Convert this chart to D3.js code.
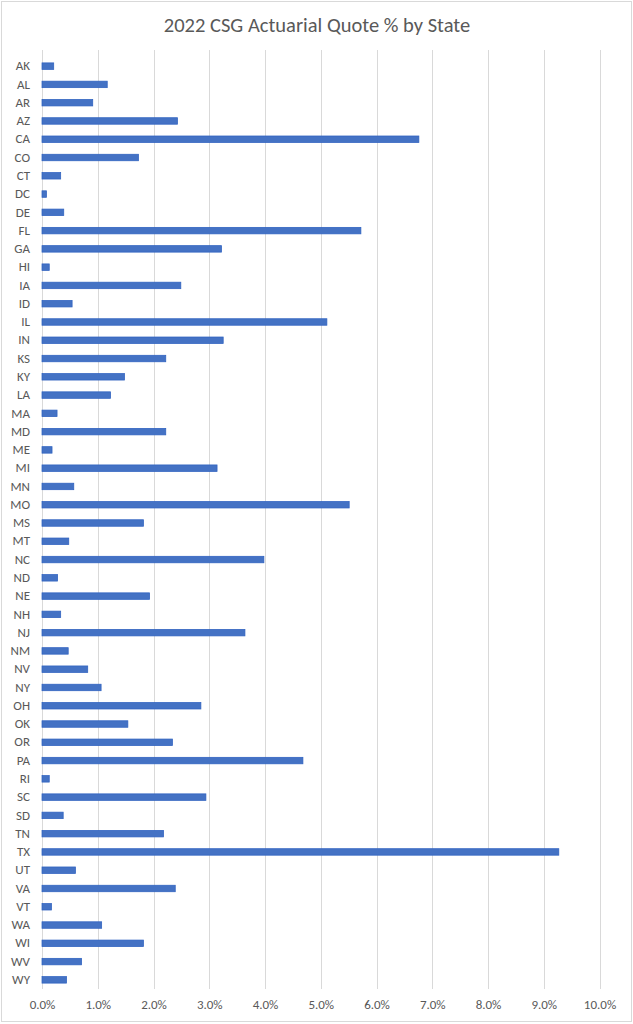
<!DOCTYPE html>
<html>
<head>
<meta charset="utf-8">
<script src="https://cdn.jsdelivr.net/npm/d3@7"></script>
<style>
  html, body { margin: 0; padding: 0; background: #fff; }
  svg { display: block; }
</style>
</head>
<body>
<svg id="chart" width="633" height="1024"></svg>
<script>
const title = "2022 CSG Actuarial Quote % by State";
const states = ["AK","AL","AR","AZ","CA","CO","CT","DC","DE","FL","GA","HI","IA","ID","IL","IN","KS","KY","LA","MA","MD","ME","MI","MN","MO","MS","MT","NC","ND","NE","NH","NJ","NM","NV","NY","OH","OK","OR","PA","RI","SC","SD","TN","TX","UT","VA","VT","WA","WI","WV","WY"];
const quotePct = [0.21,1.17,0.91,2.43,6.76,1.73,0.335,0.08,0.39,5.72,3.22,0.13,2.49,0.54,5.11,3.25,2.22,1.48,1.23,0.27,2.22,0.18,3.14,0.57,5.51,1.82,0.48,3.98,0.28,1.93,0.335,3.64,0.47,0.82,1.06,2.85,1.54,2.34,4.68,0.13,2.94,0.38,2.18,9.27,0.60,2.39,0.17,1.07,1.82,0.71,0.44];
const xTicks = [0,1,2,3,4,5,6,7,8,9,10];

const font = "Calibri, Carlito, 'Liberation Sans', Arial, sans-serif";
const svg = d3.select("#chart");

// chart border
svg.append("rect").attr("x", 1.5).attr("y", 1.5).attr("width", 630).attr("height", 1020)
  .attr("fill", "#fff").attr("stroke", "#D9D9D9").attr("stroke-width", 1);

const plot = { left: 42, right: 599.5, top: 57, bottom: 989 };

const x = d3.scaleLinear().domain([0, 10]).range([plot.left, plot.right]);
const y = d3.scaleBand().domain(states).range([plot.top, plot.bottom]).paddingInner(0.645).paddingOuter(0.3225);

// gridlines
svg.append("g").selectAll("line").data(xTicks).join("line")
  .attr("x1", d => Math.round(x(d)) + 0.5).attr("x2", d => Math.round(x(d)) + 0.5)
  .attr("y1", plot.top - 7).attr("y2", plot.bottom)
  .attr("stroke", "#D9D9D9").attr("stroke-width", 1);

// bars
svg.append("g").selectAll("rect").data(states).join("rect")
  .attr("x", x(0))
  .attr("y", d => y(d))
  .attr("width", (d, i) => x(quotePct[i]) - x(0))
  .attr("height", y.bandwidth())
  .attr("fill", "#4472C4")
  .attr("stroke", "#2F62C0")
  .attr("stroke-width", 0.75);

// y axis labels
const yAxis = d3.axisLeft(y).tickSize(0).tickPadding(0);
const yg = svg.append("g").attr("transform", `translate(${plot.left - 12},0)`).call(yAxis);
yg.select(".domain").remove();
yg.selectAll("text").attr("font-family", font).attr("font-size", 13).attr("fill", "#595959");

// x axis labels
const xAxis = d3.axisBottom(x).tickValues(xTicks).tickSize(0).tickPadding(0)
  .tickFormat(d => d.toFixed(1) + "%");
const xg = svg.append("g").attr("transform", `translate(0,${plot.bottom + 11})`).call(xAxis);
xg.select(".domain").remove();
xg.selectAll("text").attr("font-family", font).attr("font-size", 13).attr("fill", "#595959");

// title
svg.append("text").attr("x", 317).attr("y", 32)
  .attr("text-anchor", "middle")
  .attr("font-family", font).attr("font-size", 20.5).attr("fill", "#595959")
  .text(title);
</script>
</body>
</html>
